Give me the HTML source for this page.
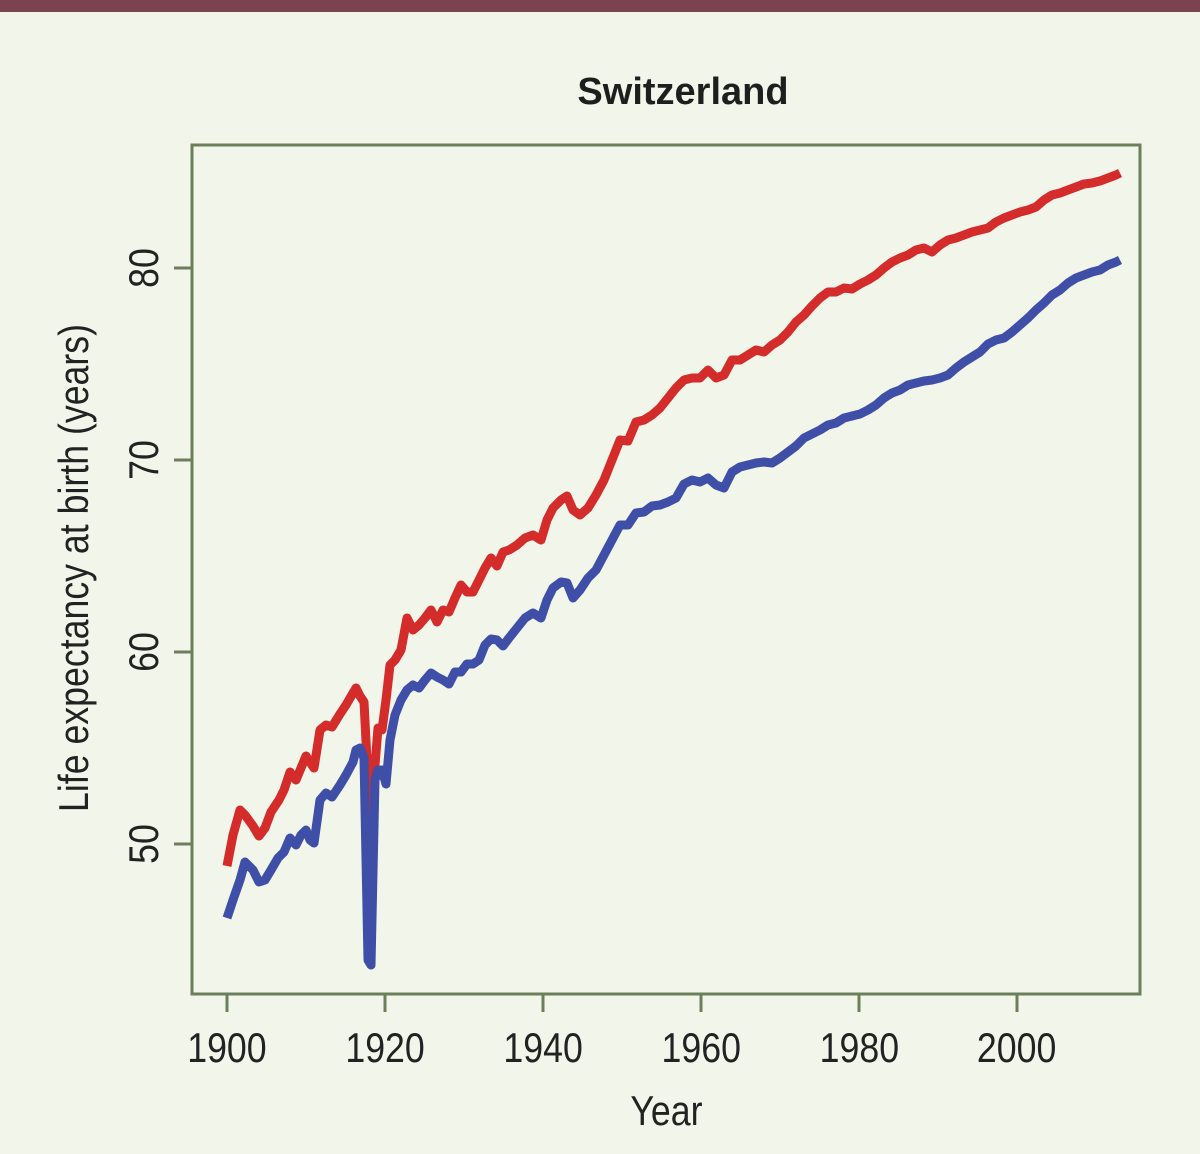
<!DOCTYPE html>
<html><head><style>
html,body{margin:0;padding:0;background:#f2f6ea;}
</style></head><body>
<svg width="1200" height="1154" xmlns="http://www.w3.org/2000/svg" style="display:block">
<rect width="1200" height="1154" fill="#f2f6ea"/>
<rect x="0" y="0" width="1200" height="12" fill="#7b4350"/>
<text x="683" y="104" text-anchor="middle" font-family="Liberation Sans, sans-serif" font-weight="bold" font-size="38" fill="#1e1e1e">Switzerland</text>
<rect x="192" y="145" width="948" height="849" fill="none" stroke="#6b7f5a" stroke-width="3"/>
<g stroke="#6b7f5a" stroke-width="3">
<line x1="227" y1="994" x2="227" y2="1012"/><line x1="385" y1="994" x2="385" y2="1012"/><line x1="543" y1="994" x2="543" y2="1012"/><line x1="701" y1="994" x2="701" y2="1012"/><line x1="859" y1="994" x2="859" y2="1012"/><line x1="1017" y1="994" x2="1017" y2="1012"/>
<line x1="174" y1="268" x2="192" y2="268"/><line x1="174" y1="460" x2="192" y2="460"/><line x1="174" y1="652" x2="192" y2="652"/><line x1="174" y1="844" x2="192" y2="844"/>
</g>
<g font-family="Liberation Sans, sans-serif" font-size="42" fill="#222" text-anchor="middle">
<g transform="scale(0.85,1)">
<text x="267" y="1062">1900</text><text x="453" y="1062">1920</text><text x="639" y="1062">1940</text><text x="825" y="1062">1960</text><text x="1011" y="1062">1980</text><text x="1196" y="1062">2000</text>
<text x="784" y="1125">Year</text>
</g>
<g transform="translate(158,268) rotate(-90) scale(0.85,1)"><text x="0" y="0">80</text></g>
<g transform="translate(158,460) rotate(-90) scale(0.85,1)"><text x="0" y="0">70</text></g>
<g transform="translate(158,652) rotate(-90) scale(0.85,1)"><text x="0" y="0">60</text></g>
<g transform="translate(158,844) rotate(-90) scale(0.85,1)"><text x="0" y="0">50</text></g>
<g transform="translate(88,568) rotate(-90) scale(0.85,1)"><text x="0" y="0">Life expectancy at birth (years)</text></g>
</g>
<polyline fill="none" stroke="#d42b2b" stroke-width="9" stroke-linejoin="round" points="227,866 233,835 240,810 245,815 253,826 259,836 265,828 271,812 279,800 284,790 290,772 296,780 301,768 306,756 310,762 314,768 320,730 326,725 332,727 340,714 346,705 353,693 356,688 360,696 364,702 368,780 371,830 375,765 378,728 382,730 386,700 390,665 395,660 401,650 407,618 413,630 419,625 425,618 431,610 437,622 443,610 449,612 455,598 461,585 467,592 473,592 479,580 485,568 491,558 497,566 503,552 509,550 517,545 525,538 533,535 541,540 547,520 553,508 561,500 567,496 573,510 580,515 588,508 596,495 604,480 612,460 620,440 628,441 636,422 644,420 652,415 660,408 668,398 676,388 684,380 692,378 700,378 708,370 716,378 724,375 732,360 740,360 748,355 756,350 764,352 772,345 780,340 788,332 796,322 804,315 812,306 820,298 828,292 836,292 844,288 852,289 860,284 868,280 876,275 884,268 892,262 900,258 908,255 916,250 924,248 932,252 940,245 948,240 956,238 964,235 972,232 980,230 988,228 996,222 1004,218 1012,215 1020,212 1028,210 1036,207 1044,200 1052,195 1060,193 1068,190 1076,187 1084,184 1092,183 1100,181 1108,178 1116,175 1120,173"/>
<polyline fill="none" stroke="#3f4fa8" stroke-width="9" stroke-linejoin="round" points="227,918 233,900 240,880 245,862 253,870 259,882 265,880 271,870 278,858 284,852 290,838 296,845 301,835 306,830 310,840 314,843 320,800 326,793 332,797 340,785 346,775 353,762 356,750 360,748 364,758 368,960 371,965 375,780 378,770 382,770 386,784 390,740 395,715 401,700 407,690 413,685 419,688 425,680 431,673 437,677 443,680 449,684 455,672 461,672 467,664 473,664 479,660 485,645 491,639 497,640 503,646 509,638 517,628 525,618 533,613 541,618 547,600 553,588 561,582 567,583 573,598 580,590 588,578 596,570 604,555 612,540 620,525 628,525 636,513 644,512 652,506 660,505 668,502 676,498 684,484 692,480 700,482 708,478 716,485 724,488 732,472 740,467 748,465 756,463 764,462 772,463 780,458 788,452 796,446 804,438 812,434 820,430 828,425 836,423 844,418 852,416 860,414 868,410 876,405 884,398 892,393 900,390 908,385 916,383 924,381 932,380 940,378 948,375 956,368 964,362 972,357 980,352 988,344 996,340 1004,338 1012,332 1020,325 1028,318 1036,310 1044,303 1052,295 1060,290 1068,283 1076,278 1084,275 1092,272 1100,270 1108,265 1116,262 1120,260"/>
</svg>
</body></html>
